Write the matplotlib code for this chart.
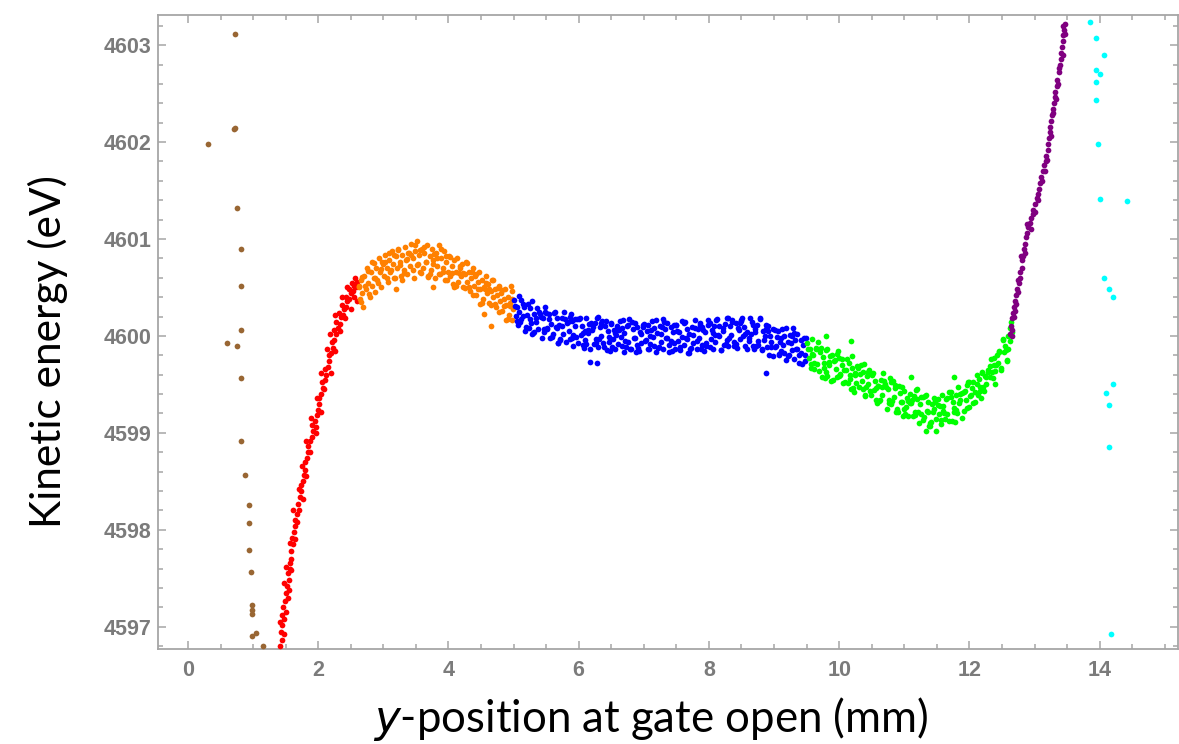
import numpy as np
import matplotlib
matplotlib.use("Agg")
import matplotlib.pyplot as plt
from matplotlib.ticker import MultipleLocator, FixedLocator

# (y-position mm, kinetic energy eV), one list per colour group
brown_pts = [(0.31, 4601.98), (0.72, 4603.12), (0.71, 4602.13), (0.73, 4602.15), (0.75, 4601.32),
             (0.82, 4600.90), (0.82, 4600.52), (0.82, 4600.06), (0.60, 4599.93), (0.75, 4599.90),
             (0.82, 4599.57), (0.82, 4598.92), (0.88, 4598.56), (0.94, 4598.26), (0.94, 4598.07),
             (0.94, 4597.79), (0.97, 4597.56), (0.98, 4597.22), (0.98, 4597.17), (0.98, 4597.13),
             (0.98, 4596.90), (1.05, 4596.93), (1.16, 4596.80)]

red_pts = [(1.42, 4596.80), (1.44, 4596.86), (1.43, 4596.95), (1.45, 4597.02), (1.47, 4597.08),
           (1.44, 4597.12), (1.46, 4597.20), (1.49, 4597.27), (1.50, 4597.35), (1.53, 4597.30),
           (1.52, 4597.42), (1.55, 4597.48), (1.54, 4597.55), (1.57, 4597.60), (1.56, 4597.66),
           (1.59, 4597.70), (1.58, 4597.78), (1.61, 4597.85), (1.60, 4597.92), (1.63, 4597.98),
           (1.65, 4598.04), (1.64, 4598.10), (1.67, 4598.16), (1.70, 4598.20), (1.69, 4598.27),
           (1.72, 4598.34), (1.74, 4598.40), (1.73, 4598.46), (1.76, 4598.50), (1.78, 4598.57),
           (1.80, 4598.62), (1.79, 4598.70), (1.83, 4598.74), (1.85, 4598.80), (1.84, 4598.86),
           (1.87, 4598.92), (1.90, 4598.96), (1.92, 4599.02), (1.91, 4599.08), (1.95, 4599.12),
           (1.97, 4599.06), (1.98, 4599.18), (2.00, 4599.24), (2.02, 4599.30), (2.01, 4599.36),
           (2.05, 4599.40), (2.07, 4599.46), (2.06, 4599.52), (2.10, 4599.55), (2.12, 4599.60),
           (2.11, 4599.66), (2.15, 4599.68), (2.17, 4599.74), (2.16, 4599.80), (2.20, 4599.82),
           (2.22, 4599.88), (2.21, 4599.94), (2.25, 4599.96), (2.27, 4600.02), (2.24, 4600.06),
           (2.30, 4600.08), (2.28, 4600.14), (2.33, 4600.12), (2.35, 4600.20), (2.32, 4600.24),
           (2.38, 4600.22), (2.40, 4600.28), (2.37, 4600.32), (2.43, 4600.30), (2.45, 4600.36),
           (2.42, 4600.40), (2.48, 4600.38), (2.50, 4600.44), (2.47, 4600.48), (2.53, 4600.46),
           (2.55, 4600.52), (2.52, 4600.55), (2.58, 4600.50), (2.60, 4600.56), (2.57, 4600.60),
           (1.47, 4596.92), (1.41, 4597.05), (1.51, 4597.15), (1.48, 4597.45), (1.55, 4597.38),
           (1.51, 4597.62), (1.59, 4597.58), (1.57, 4597.86), (1.64, 4597.90), (1.62, 4598.20),
           (1.68, 4598.08), (1.70, 4598.42), (1.76, 4598.32), (1.75, 4598.66), (1.82, 4598.55),
           (1.82, 4598.92), (1.88, 4598.80), (1.89, 4599.15), (1.96, 4599.00), (1.98, 4599.36),
           (2.04, 4599.22), (2.04, 4599.62), (2.09, 4599.45), (2.13, 4599.86), (2.19, 4599.62),
           (2.18, 4600.02), (2.26, 4599.84), (2.26, 4600.22), (2.34, 4600.05), (2.36, 4600.40),
           (2.41, 4600.18), (2.44, 4600.50), (2.50, 4600.28), (2.55, 4600.40), (2.59, 4600.36)]

orange_pts = [(2.62, 4600.50), (2.64, 4600.38), (2.65, 4600.58), (2.67, 4600.44), (2.69, 4600.30),
              (2.71, 4600.62), (2.73, 4600.48), (2.75, 4600.70), (2.77, 4600.55), (2.79, 4600.40),
              (2.81, 4600.66), (2.83, 4600.52), (2.85, 4600.75), (2.87, 4600.60), (2.89, 4600.70),
              (2.91, 4600.58), (2.93, 4600.80), (2.95, 4600.66), (2.97, 4600.50), (2.99, 4600.74),
              (3.01, 4600.62), (3.03, 4600.84), (3.05, 4600.70), (3.07, 4600.56), (3.09, 4600.78),
              (3.11, 4600.66), (3.13, 4600.88), (3.15, 4600.74), (3.17, 4600.60), (3.19, 4600.82),
              (3.20, 4600.48), (3.21, 4600.70), (3.23, 4600.90), (3.25, 4600.76), (3.27, 4600.62),
              (3.29, 4600.84), (3.31, 4600.68), (3.33, 4600.92), (3.35, 4600.78), (3.37, 4600.64),
              (3.39, 4600.86), (3.41, 4600.72), (3.43, 4600.95), (3.45, 4600.80), (3.47, 4600.60),
              (3.49, 4600.88), (3.51, 4600.98), (3.53, 4600.74), (3.55, 4600.84), (3.57, 4600.66),
              (3.59, 4600.90), (3.61, 4600.70), (3.63, 4600.86), (3.65, 4600.76), (3.67, 4600.94),
              (3.69, 4600.62), (3.71, 4600.82), (3.73, 4600.68), (3.75, 4600.90), (3.77, 4600.74),
              (3.79, 4600.60), (3.77, 4600.50), (3.81, 4600.86), (3.83, 4600.72), (3.85, 4600.94),
              (3.87, 4600.64), (3.89, 4600.80), (3.91, 4600.70), (3.93, 4600.88), (3.95, 4600.58),
              (3.97, 4600.76), (3.99, 4600.66), (4.01, 4600.82), (4.03, 4600.62), (4.05, 4600.72),
              (4.07, 4600.54), (4.09, 4600.78), (4.11, 4600.66), (4.13, 4600.80), (4.15, 4600.56),
              (4.17, 4600.70), (4.19, 4600.62), (4.21, 4600.74), (4.23, 4600.50), (4.25, 4600.64),
              (4.27, 4600.76), (4.29, 4600.56), (4.31, 4600.66), (4.33, 4600.46), (4.35, 4600.60),
              (4.37, 4600.70), (4.39, 4600.52), (4.41, 4600.62), (4.43, 4600.42), (4.45, 4600.56),
              (4.47, 4600.66), (4.49, 4600.48), (4.51, 4600.58), (4.53, 4600.38), (4.55, 4600.50),
              (4.54, 4600.23), (4.57, 4600.62), (4.59, 4600.44), (4.61, 4600.54), (4.63, 4600.34),
              (4.65, 4600.46), (4.65, 4600.10), (4.67, 4600.58), (4.69, 4600.40), (4.71, 4600.48),
              (4.73, 4600.30), (4.75, 4600.42), (4.77, 4600.52), (4.79, 4600.36), (4.81, 4600.44),
              (4.83, 4600.26), (4.85, 4600.38), (4.87, 4600.48), (4.89, 4600.32), (4.91, 4600.40),
              (4.93, 4600.22), (4.95, 4600.34), (4.97, 4600.46), (4.99, 4600.28), (4.98, 4600.16),
              (4.96, 4600.52),
              (2.63, 4600.51), (2.66, 4600.35), (2.68, 4600.61), (2.72, 4600.51), (2.76, 4600.67),
              (2.78, 4600.43), (2.82, 4600.76), (2.86, 4600.60), (2.88, 4600.45), (2.92, 4600.55),
              (2.96, 4600.69), (2.98, 4600.76), (3.02, 4600.76), (3.06, 4600.60), (3.08, 4600.86),
              (3.12, 4600.68), (3.16, 4600.84), (3.18, 4600.60), (3.22, 4600.89), (3.26, 4600.73),
              (3.28, 4600.58), (3.32, 4600.65), (3.36, 4600.79), (3.38, 4600.86), (3.42, 4600.84),
              (3.46, 4600.68), (3.48, 4600.94), (3.52, 4600.73), (3.56, 4600.89), (3.58, 4600.65),
              (3.62, 4600.92), (3.66, 4600.76), (3.68, 4600.61), (3.72, 4600.64), (3.76, 4600.78),
              (3.78, 4600.85), (3.82, 4600.80), (3.86, 4600.64), (3.88, 4600.90), (3.92, 4600.66),
              (3.96, 4600.82), (3.98, 4600.58), (4.02, 4600.81), (4.06, 4600.65), (4.08, 4600.50),
              (4.12, 4600.51), (4.16, 4600.65), (4.18, 4600.72), (4.22, 4600.65), (4.26, 4600.49),
              (4.28, 4600.75), (4.32, 4600.50), (4.36, 4600.66), (4.38, 4600.42), (4.42, 4600.64),
              (4.46, 4600.48), (4.48, 4600.33), (4.52, 4600.34), (4.56, 4600.48), (4.58, 4600.55),
              (4.62, 4600.48), (4.66, 4600.32), (4.68, 4600.58), (4.72, 4600.33), (4.76, 4600.49),
              (4.78, 4600.25), (4.82, 4600.47), (4.86, 4600.31), (4.88, 4600.16), (4.92, 4600.17),
              (4.94, 4600.31), (4.97, 4600.38)]

blue_pts = [(5.01, 4600.37), (5.03, 4600.21), (5.05, 4600.30), (5.07, 4600.11), (5.09, 4600.25),
            (5.10, 4600.14), (5.12, 4600.37), (5.14, 4600.21), (5.16, 4600.30), (5.18, 4600.05),
            (5.21, 4600.22), (5.23, 4600.08), (5.25, 4600.29), (5.27, 4600.13), (5.29, 4600.36),
            (5.30, 4600.03), (5.32, 4600.23), (5.34, 4600.14), (5.36, 4600.29), (5.38, 4600.07),
            (5.41, 4600.23), (5.43, 4599.98), (5.45, 4600.18), (5.47, 4600.07), (5.49, 4600.25),
            (5.50, 4600.24), (5.52, 4600.08), (5.54, 4600.17), (5.56, 4599.98), (5.58, 4600.12),
            (5.61, 4600.02), (5.63, 4600.25), (5.65, 4600.09), (5.67, 4600.18), (5.69, 4599.93),
            (5.70, 4600.11), (5.72, 4599.97), (5.74, 4600.18), (5.76, 4600.02), (5.78, 4600.25),
            (5.81, 4599.94), (5.83, 4600.14), (5.85, 4600.05), (5.87, 4600.20), (5.89, 4599.98),
            (5.90, 4600.15), (5.92, 4599.90), (5.94, 4600.10), (5.96, 4599.99), (5.98, 4600.17),
            (6.01, 4600.17), (6.03, 4600.01), (6.05, 4600.10), (6.07, 4599.91), (6.09, 4600.05),
            (6.10, 4599.96), (6.12, 4600.19), (6.14, 4600.03), (6.16, 4600.12), (6.18, 4599.87),
            (6.18, 4599.73), (6.28, 4599.72),
            (6.21, 4600.06), (6.23, 4599.92), (6.25, 4600.13), (6.27, 4599.97), (6.29, 4600.20),
            (6.30, 4599.89), (6.32, 4600.09), (6.34, 4600.00), (6.36, 4600.15), (6.38, 4599.93),
            (6.41, 4600.10), (6.43, 4599.85), (6.45, 4600.05), (6.47, 4599.94), (6.49, 4600.12),
            (6.50, 4600.13), (6.52, 4599.97), (6.54, 4600.06), (6.56, 4599.87), (6.58, 4600.01),
            (6.61, 4599.92), (6.63, 4600.15), (6.65, 4599.99), (6.67, 4600.08), (6.69, 4599.83),
            (6.70, 4600.03), (6.72, 4599.89), (6.74, 4600.10), (6.76, 4599.94), (6.78, 4600.17),
            (6.81, 4599.87), (6.83, 4600.07), (6.85, 4599.98), (6.87, 4600.13), (6.89, 4599.91),
            (6.90, 4600.09), (6.92, 4599.84), (6.94, 4600.04), (6.96, 4599.93), (6.98, 4600.11),
            (7.01, 4600.12), (7.03, 4599.96), (7.05, 4600.05), (7.07, 4599.86), (7.09, 4600.00),
            (7.10, 4599.92), (7.12, 4600.15), (7.14, 4599.99), (7.16, 4600.08), (7.18, 4599.83),
            (7.21, 4600.03), (7.23, 4599.89), (7.25, 4600.10), (7.27, 4599.94), (7.29, 4600.17),
            (7.30, 4599.87), (7.32, 4600.07), (7.34, 4599.98), (7.36, 4600.13), (7.38, 4599.91),
            (7.41, 4600.09), (7.43, 4599.84), (7.45, 4600.04), (7.47, 4599.93), (7.49, 4600.11),
            (7.50, 4600.11), (7.52, 4599.95), (7.54, 4600.04), (7.56, 4599.85), (7.58, 4599.99),
            (7.61, 4599.91), (7.63, 4600.14), (7.65, 4599.98), (7.67, 4600.07), (7.69, 4599.82),
            (7.70, 4600.02), (7.72, 4599.88), (7.74, 4600.09), (7.76, 4599.93), (7.78, 4600.16),
            (7.81, 4599.87), (7.83, 4600.07), (7.85, 4599.98), (7.87, 4600.13), (7.89, 4599.91),
            (7.90, 4600.09), (7.92, 4599.84), (7.94, 4600.04), (7.96, 4599.93), (7.98, 4600.11),
            (8.01, 4600.13), (8.03, 4599.97), (8.05, 4600.06), (8.07, 4599.87), (8.09, 4600.01),
            (8.10, 4599.94), (8.12, 4600.17), (8.14, 4600.01), (8.16, 4600.10), (8.18, 4599.85),
            (8.21, 4600.05), (8.23, 4599.91), (8.25, 4600.12), (8.27, 4599.96), (8.29, 4600.19),
            (8.30, 4599.90), (8.32, 4600.10), (8.34, 4600.01), (8.36, 4600.16), (8.38, 4599.94),
            (8.41, 4600.13), (8.43, 4599.88), (8.45, 4600.08), (8.47, 4599.97), (8.49, 4600.15),
            (8.50, 4600.16), (8.52, 4600.00), (8.54, 4600.09), (8.56, 4599.90), (8.58, 4600.04),
            (8.61, 4599.95), (8.63, 4600.18), (8.65, 4600.02), (8.67, 4600.11), (8.69, 4599.86),
            (8.70, 4600.04), (8.72, 4599.90), (8.74, 4600.11), (8.76, 4599.95), (8.78, 4600.18),
            (8.81, 4599.85), (8.83, 4600.05), (8.85, 4599.96), (8.87, 4600.11), (8.89, 4599.89),
            (8.88, 4599.62),
            (8.90, 4600.05), (8.92, 4599.80), (8.94, 4600.00), (8.96, 4599.89), (8.98, 4600.07),
            (9.01, 4600.06), (9.03, 4599.90), (9.05, 4599.99), (9.07, 4599.80), (9.09, 4599.94),
            (9.10, 4599.84), (9.12, 4600.07), (9.14, 4599.91), (9.16, 4600.00), (9.18, 4599.75),
            (9.21, 4599.94), (9.23, 4599.80), (9.25, 4600.01), (9.27, 4599.85), (9.29, 4600.08),
            (9.30, 4599.76), (9.32, 4599.96), (9.34, 4599.87), (9.36, 4600.02), (9.38, 4599.80),
            (9.41, 4599.96), (9.43, 4599.71), (9.45, 4599.91), (9.47, 4599.80), (9.49, 4599.98),
            (5.02, 4600.31), (5.06, 4600.15), (5.08, 4600.41), (5.11, 4600.17), (5.15, 4600.33),
            (5.19, 4600.09), (5.22, 4600.33), (5.26, 4600.17), (5.28, 4600.02), (5.31, 4600.04),
            (5.35, 4600.18), (5.39, 4600.25), (5.42, 4600.20), (5.46, 4600.04), (5.48, 4600.30),
            (5.51, 4600.07), (5.55, 4600.23), (5.59, 4599.99), (5.62, 4600.24), (5.66, 4600.08),
            (5.68, 4599.93), (5.71, 4599.96), (5.75, 4600.10), (5.79, 4600.17), (5.82, 4600.13),
            (5.86, 4599.97), (5.88, 4600.23), (5.91, 4600.01), (5.95, 4600.17), (5.99, 4599.93),
            (6.02, 4600.19), (6.06, 4600.03), (6.08, 4599.88), (6.11, 4599.92), (6.15, 4600.06),
            (6.19, 4600.13), (6.22, 4600.09), (6.26, 4599.93), (6.28, 4600.19), (6.31, 4599.97),
            (6.35, 4600.13), (6.39, 4599.89), (6.42, 4600.15), (6.46, 4599.99), (6.48, 4599.84),
            (6.51, 4599.89), (6.55, 4600.03), (6.59, 4600.10), (6.62, 4600.06), (6.66, 4599.90),
            (6.68, 4600.16), (6.71, 4599.95), (6.75, 4600.11), (6.79, 4599.87), (6.82, 4600.14),
            (6.86, 4599.98), (6.88, 4599.83), (6.91, 4599.88), (6.95, 4600.02), (6.99, 4600.09),
            (7.02, 4599.95), (7.06, 4600.11), (7.08, 4599.87), (7.11, 4600.06), (7.15, 4599.90),
            (7.19, 4600.16), (7.22, 4599.88), (7.26, 4600.02), (7.28, 4600.09), (7.31, 4600.14),
            (7.35, 4599.98), (7.39, 4599.83), (7.42, 4599.95), (7.46, 4600.11), (7.48, 4599.87),
            (7.51, 4600.05), (7.55, 4599.89), (7.59, 4600.15), (7.62, 4600.13), (7.66, 4599.97),
            (7.68, 4599.82), (7.71, 4599.87), (7.75, 4600.01), (7.79, 4600.08), (7.82, 4599.95),
            (7.86, 4600.11), (7.88, 4599.87), (7.91, 4600.06), (7.95, 4599.90), (7.99, 4600.16),
            (8.02, 4599.89), (8.06, 4600.03), (8.08, 4600.10), (8.11, 4600.16), (8.15, 4600.00),
            (8.19, 4599.85), (8.22, 4600.08), (8.26, 4599.92), (8.28, 4600.18), (8.31, 4599.98),
            (8.35, 4600.14), (8.39, 4599.90), (8.42, 4599.92), (8.46, 4600.06), (8.48, 4600.13),
            (8.51, 4600.18), (8.55, 4600.02), (8.59, 4599.87), (8.62, 4599.98), (8.66, 4600.14),
            (8.68, 4599.90), (8.71, 4600.07), (8.75, 4599.91), (8.79, 4600.17), (8.82, 4599.86),
            (8.86, 4600.00), (8.88, 4600.07), (8.91, 4600.10), (8.95, 4599.94), (8.99, 4599.79),
            (9.02, 4599.89), (9.06, 4600.05), (9.08, 4599.81), (9.11, 4599.98), (9.15, 4599.82),
            (9.19, 4600.08), (9.22, 4599.79), (9.26, 4599.93), (9.28, 4600.00), (9.31, 4600.03),
            (9.35, 4599.87), (9.39, 4599.72), (9.42, 4599.82), (9.46, 4599.98), (9.48, 4599.74)]

green_pts = [(9.51, 4599.93), (9.53, 4599.77), (9.55, 4599.86), (9.57, 4599.67), (9.59, 4599.81),
             (9.60, 4599.80), (9.62, 4599.66), (9.64, 4599.87), (9.66, 4599.71), (9.68, 4599.94),
             (9.71, 4599.83), (9.73, 4599.58), (9.75, 4599.78), (9.77, 4599.67), (9.79, 4599.85),
             (9.80, 4599.63), (9.82, 4599.86), (9.84, 4599.70), (9.86, 4599.79), (9.88, 4599.54),
             (9.80, 4600.00),
             (9.91, 4599.55), (9.93, 4599.75), (9.95, 4599.66), (9.97, 4599.81), (9.99, 4599.59),
             (10.00, 4599.77), (10.02, 4599.61), (10.04, 4599.70), (10.06, 4599.51), (10.08, 4599.65),
             (10.11, 4599.65), (10.13, 4599.51), (10.15, 4599.72), (10.17, 4599.56), (10.19, 4599.79),
             (10.18, 4599.95),
             (10.20, 4599.67), (10.22, 4599.42), (10.24, 4599.62), (10.26, 4599.51), (10.28, 4599.69),
             (10.31, 4599.47), (10.33, 4599.70), (10.35, 4599.54), (10.37, 4599.63), (10.39, 4599.38),
             (10.40, 4599.39), (10.42, 4599.59), (10.44, 4599.50), (10.46, 4599.65), (10.48, 4599.43),
             (10.51, 4599.60), (10.53, 4599.44), (10.55, 4599.53), (10.57, 4599.34), (10.59, 4599.48),
             (10.60, 4599.48), (10.62, 4599.34), (10.64, 4599.55), (10.66, 4599.39), (10.68, 4599.62),
             (10.71, 4599.50), (10.73, 4599.25), (10.75, 4599.45), (10.77, 4599.34), (10.79, 4599.52),
             (10.80, 4599.30), (10.82, 4599.53), (10.84, 4599.37), (10.86, 4599.46), (10.88, 4599.21),
             (10.91, 4599.21), (10.93, 4599.41), (10.95, 4599.32), (10.97, 4599.47), (10.99, 4599.25),
             (11.00, 4599.43), (11.02, 4599.27), (11.04, 4599.36), (11.06, 4599.17), (11.08, 4599.31),
             (11.11, 4599.31), (11.13, 4599.17), (11.15, 4599.38), (11.17, 4599.22), (11.19, 4599.45),
             (11.10, 4599.58),
             (11.20, 4599.35), (11.22, 4599.10), (11.24, 4599.30), (11.26, 4599.19), (11.28, 4599.37),
             (11.31, 4599.16), (11.33, 4599.39), (11.35, 4599.23), (11.37, 4599.32), (11.39, 4599.07),
             (11.34, 4599.02),
             (11.40, 4599.10), (11.42, 4599.30), (11.44, 4599.21), (11.46, 4599.36), (11.48, 4599.14),
             (11.49, 4599.02),
             (11.51, 4599.35), (11.53, 4599.19), (11.55, 4599.28), (11.57, 4599.09), (11.59, 4599.23),
             (11.60, 4599.28), (11.62, 4599.14), (11.64, 4599.35), (11.66, 4599.19), (11.68, 4599.42),
             (11.71, 4599.37), (11.73, 4599.12), (11.75, 4599.32), (11.77, 4599.21), (11.79, 4599.39),
             (11.77, 4599.58),
             (11.80, 4599.24), (11.82, 4599.47), (11.84, 4599.31), (11.86, 4599.40), (11.88, 4599.15),
             (11.91, 4599.23), (11.93, 4599.43), (11.95, 4599.34), (11.97, 4599.49), (11.99, 4599.27),
             (12.00, 4599.52), (12.02, 4599.39), (12.04, 4599.46), (12.06, 4599.31), (12.08, 4599.42),
             (12.11, 4599.50), (12.13, 4599.39), (12.15, 4599.56), (12.17, 4599.43), (12.19, 4599.62),
             (12.20, 4599.63), (12.22, 4599.43), (12.24, 4599.59), (12.26, 4599.50), (12.28, 4599.65),
             (12.31, 4599.58), (12.33, 4599.76), (12.35, 4599.63), (12.37, 4599.70), (12.39, 4599.50),
             (12.40, 4599.64), (12.42, 4599.80), (12.44, 4599.72), (12.46, 4599.84), (12.48, 4599.67),
             (12.51, 4599.96), (12.53, 4599.83), (12.55, 4599.90), (12.57, 4599.75), (12.59, 4599.86),
             (12.60, 4600.00), (12.62, 4600.08), (12.63, 4599.95), (12.64, 4600.14), (12.65, 4600.04),
             (9.52, 4599.87), (9.56, 4599.71), (9.58, 4599.97), (9.61, 4599.72), (9.65, 4599.88),
             (9.69, 4599.64), (9.72, 4599.88), (9.76, 4599.72), (9.78, 4599.57), (9.81, 4599.59),
             (9.85, 4599.73), (9.89, 4599.80), (9.92, 4599.74), (9.96, 4599.58), (9.98, 4599.84),
             (10.01, 4599.60), (10.05, 4599.76), (10.09, 4599.52), (10.12, 4599.76), (10.16, 4599.60),
             (10.18, 4599.45), (10.21, 4599.46), (10.25, 4599.60), (10.29, 4599.67), (10.32, 4599.61),
             (10.36, 4599.45), (10.38, 4599.71), (10.41, 4599.47), (10.45, 4599.63), (10.49, 4599.39),
             (10.52, 4599.62), (10.56, 4599.46), (10.58, 4599.31), (10.61, 4599.33), (10.65, 4599.47),
             (10.69, 4599.54), (10.72, 4599.47), (10.76, 4599.31), (10.78, 4599.57), (10.81, 4599.33),
             (10.85, 4599.49), (10.89, 4599.25), (10.92, 4599.48), (10.96, 4599.32), (10.98, 4599.17),
             (11.01, 4599.19), (11.05, 4599.33), (11.09, 4599.40), (11.12, 4599.34), (11.16, 4599.18),
             (11.18, 4599.44), (11.21, 4599.21), (11.25, 4599.37), (11.29, 4599.13), (11.32, 4599.38),
             (11.36, 4599.22), (11.38, 4599.07), (11.41, 4599.11), (11.45, 4599.25), (11.47, 4599.32),
             (11.52, 4599.29), (11.56, 4599.13), (11.58, 4599.39), (11.61, 4599.20), (11.65, 4599.36),
             (11.69, 4599.12), (11.72, 4599.42), (11.76, 4599.26), (11.78, 4599.11), (11.81, 4599.20),
             (11.85, 4599.34), (11.89, 4599.41), (11.92, 4599.42), (11.96, 4599.26), (11.98, 4599.52),
             (12.01, 4599.38), (12.05, 4599.52), (12.09, 4599.32), (12.12, 4599.60), (12.16, 4599.47),
             (12.18, 4599.36), (12.21, 4599.47), (12.25, 4599.58), (12.29, 4599.63), (12.32, 4599.69),
             (12.36, 4599.57), (12.38, 4599.77), (12.41, 4599.70), (12.45, 4599.83), (12.49, 4599.65),
             (12.52, 4599.97), (12.56, 4599.85), (12.58, 4599.74)]

purple_pts = [(12.62, 4600.02), (12.64, 4600.10), (12.66, 4600.06), (12.65, 4600.18), (12.67, 4600.24),
              (12.69, 4600.20), (12.68, 4600.30), (12.70, 4600.36), (12.72, 4600.33), (12.71, 4600.42),
              (12.73, 4600.48), (12.75, 4600.45), (12.76, 4600.55), (12.78, 4600.60), (12.77, 4600.66),
              (12.80, 4600.70), (12.81, 4600.78), (12.83, 4600.82), (12.84, 4600.90), (12.86, 4600.95),
              (12.87, 4601.02), (12.89, 4601.06), (12.90, 4601.12), (12.93, 4601.16), (12.95, 4601.22),
              (12.97, 4601.26), (12.98, 4601.30), (13.01, 4601.36), (13.03, 4601.42), (13.05, 4601.46),
              (13.07, 4601.52), (13.09, 4601.58), (13.10, 4601.64), (13.13, 4601.70), (13.15, 4601.76),
              (13.17, 4601.80), (13.18, 4601.86), (13.20, 4601.92), (13.21, 4601.98), (13.22, 4602.04),
              (13.23, 4602.10), (13.24, 4602.16), (13.26, 4602.22), (13.27, 4602.28), (13.28, 4602.34),
              (13.30, 4602.40), (13.31, 4602.46), (13.32, 4602.52), (13.34, 4602.58), (13.35, 4602.64),
              (13.37, 4602.72), (13.39, 4602.80), (13.40, 4602.86), (13.41, 4602.92), (13.42, 4602.98),
              (13.43, 4603.04), (13.44, 4603.10), (13.45, 4603.16), (13.46, 4603.22), (13.44, 4603.20),
              (12.66, 4600.00), (12.70, 4600.26), (12.74, 4600.58), (12.79, 4600.82), (12.85, 4600.86),
              (12.88, 4601.15), (12.94, 4601.10), (13.00, 4601.28), (13.06, 4601.40), (13.12, 4601.60),
              (13.16, 4601.70), (13.19, 4601.82), (13.25, 4602.06), (13.29, 4602.30), (13.33, 4602.44),
              (13.36, 4602.60), (13.38, 4602.76), (13.43, 4602.90), (13.47, 4603.12)]

cyan_pts = [(13.85, 4603.24), (13.94, 4603.07), (14.06, 4602.90), (13.94, 4602.74), (14.01, 4602.70),
            (13.94, 4602.62), (13.94, 4602.43), (13.97, 4601.98), (14.00, 4601.41), (14.42, 4601.39),
            (14.06, 4600.60), (14.15, 4600.48), (14.20, 4600.40), (14.20, 4599.50), (14.09, 4599.41),
            (14.14, 4599.29), (14.14, 4598.85), (14.17, 4596.92)]

groups = [("#996633", brown_pts), ("#ff0000", red_pts), ("#ff8000", orange_pts),
          ("#0000ff", blue_pts), ("#00ff00", green_pts), ("#800080", purple_pts),
          ("#00ffff", cyan_pts)]

x_ticks = [0, 2, 4, 6, 8, 10, 12, 14]
y_ticks = [4597, 4598, 4599, 4600, 4601, 4602, 4603]

fig = plt.figure(figsize=(11.79, 7.44), dpi=100)
ax = fig.add_axes([0.134, 0.1277, 0.865, 0.852])

for color, pts in groups:
    xs, ys = zip(*pts)
    ax.scatter(xs, ys, s=17, color=color, linewidths=0, zorder=3)

ax.set_xlim(-0.46, 15.2)
ax.set_ylim(4596.77, 4603.31)

frame = "#a6a6a6"
for sp in ax.spines.values():
    sp.set_color(frame)
    sp.set_linewidth(1.3)

ax.xaxis.set_major_locator(FixedLocator(x_ticks))
ax.yaxis.set_major_locator(FixedLocator(y_ticks))
ax.xaxis.set_minor_locator(MultipleLocator(0.5))
ax.yaxis.set_minor_locator(MultipleLocator(0.2))
ax.set_xticklabels([str(v) for v in x_ticks])
ax.set_yticklabels([str(v) for v in y_ticks])

ax.tick_params(which="both", direction="in", top=True, right=True, color=frame, width=1.1)
ax.tick_params(which="major", length=6)
ax.tick_params(which="minor", length=3.5)
ax.tick_params(axis="y", which="major", pad=5)
ax.tick_params(axis="x", which="major", pad=8)
for lab in ax.get_xticklabels() + ax.get_yticklabels():
    lab.set_fontfamily("Liberation Sans")
    lab.set_fontweight("bold")
    lab.set_fontsize(15.5)
    lab.set_color("#7b7b7b")

ax.set_xlabel("$\\it{y}$-position at gate open (mm)", fontsize=31.5, family="Lato")
ax.set_ylabel("Kinetic energy (eV)", fontsize=30.5, family="Lato")
ax.xaxis.set_label_coords(0.483, -0.072)
ax.yaxis.set_label_coords(-0.088, 0.47)

fig.savefig("out.png", dpi=100)
